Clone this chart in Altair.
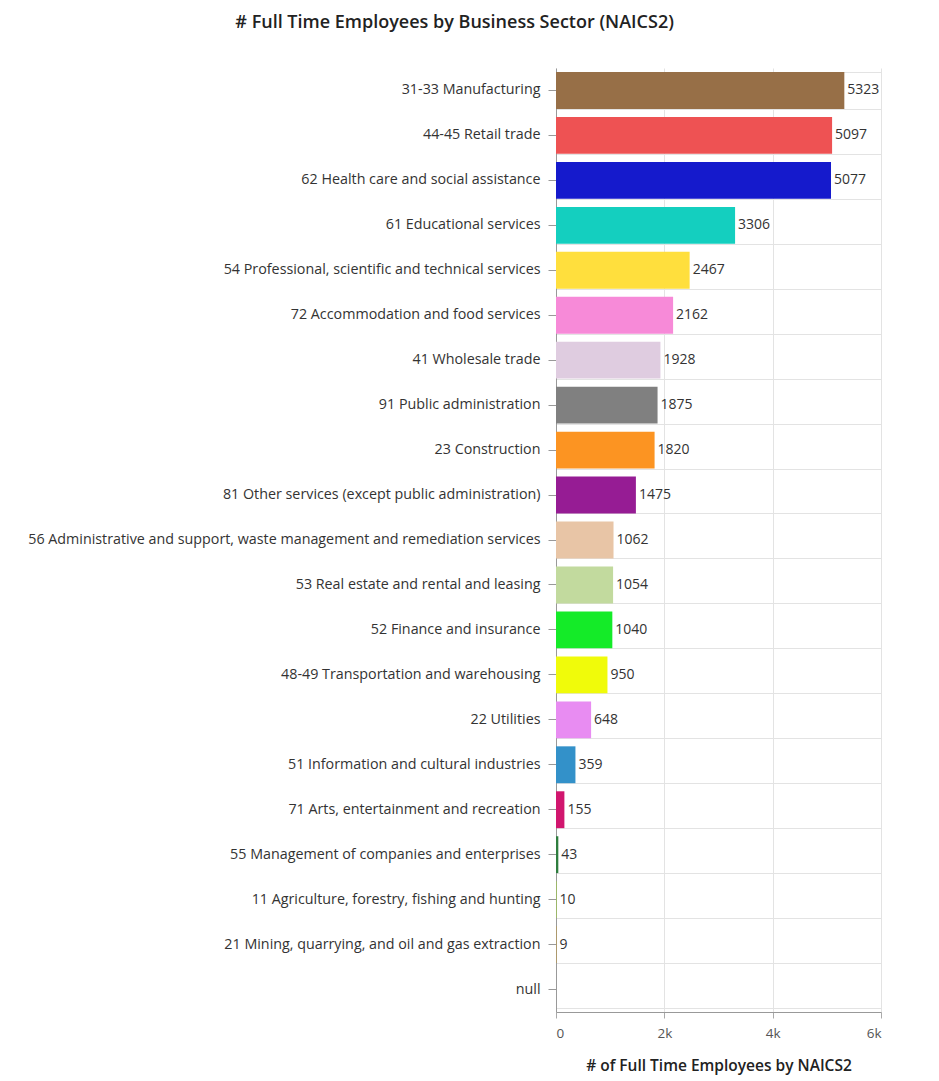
import altair as alt
import pandas as pd

sectors = [
    "31-33 Manufacturing",
    "44-45 Retail trade",
    "62 Health care and social assistance",
    "61 Educational services",
    "54 Professional, scientific and technical services",
    "72 Accommodation and food services",
    "41 Wholesale trade",
    "91 Public administration",
    "23 Construction",
    "81 Other services (except public administration)",
    "56 Administrative and support, waste management and remediation services",
    "53 Real estate and rental and leasing",
    "52 Finance and insurance",
    "48-49 Transportation and warehousing",
    "22 Utilities",
    "51 Information and cultural industries",
    "71 Arts, entertainment and recreation",
    "55 Management of companies and enterprises",
    "11 Agriculture, forestry, fishing and hunting",
    "21 Mining, quarrying, and oil and gas extraction",
    "null",
]
employees = [5323, 5097, 5077, 3306, 2467, 2162, 1928, 1875, 1820, 1475,
             1062, 1054, 1040, 950, 648, 359, 155, 43, 10, 9, None]
colors = ["#976f47", "#ee5253", "#151acc", "#14cfbf", "#ffdf3d", "#f78ad8",
          "#dfcce0", "#808080", "#fc9422", "#961c94", "#e8c5a6", "#c2da9e",
          "#14eb28", "#f0fb0a", "#e88cf2", "#3391c9", "#d1166e", "#2e7d3e",
          "#9fd040", "#c49a40", "#ffffff"]
x_ticks = [0, 2000, 4000, 6000]

df = pd.DataFrame({"sector": sectors, "employees": employees, "color": colors})

LABEL_FONT = "Open Sans"

yscale = alt.Scale(domain=sectors, paddingInner=0.18, paddingOuter=0.09)
xscale = alt.Scale(domain=[0, 6000], nice=False)

grid_layer = alt.Chart(df).mark_point(opacity=0).encode(
    y=alt.Y("sector:N", scale=yscale,
            axis=alt.Axis(orient="left", labels=False, ticks=False, domain=False,
                          grid=True, tickBand="extent", gridColor="#e3e3e3",
                          title=None)),
)

bars = alt.Chart(df).transform_filter("datum.employees != null").mark_bar().encode(
    y=alt.Y("sector:N", scale=yscale,
            axis=alt.Axis(orient="left", title=None, grid=False, tickSize=8, labelPadding=8,
                          labelFont=LABEL_FONT, labelFontSize=14.3, labelColor="#333333",
                          labelLimit=800, domainColor="#999999", tickColor="#999999")),
    x=alt.X("employees:Q", scale=xscale,
            axis=alt.Axis(values=x_ticks, grid=True, gridColor="#e3e3e3",
                          labelExpr="datum.value == 0 ? '0' : format(datum.value / 1000, 'd') + 'k'",
                          tickSize=6, tickColor="#aaaaaa", domainColor="#999999",
                          labelFont=LABEL_FONT, labelFontSize=13.5, labelColor="#555555",
                          labelPadding=8, title="# of Full Time Employees by NAICS2",
                          titleFont=LABEL_FONT, titleFontSize=15.5, titleFontWeight=600,
                          titleColor="#222222", titlePadding=19)),
    color=alt.Color("color:N", scale=None, legend=None),
)

labels = alt.Chart(df).transform_filter("datum.employees != null").mark_text(
    align="left", baseline="middle", dx=3, font=LABEL_FONT, fontSize=14, color="#333333"
).encode(
    y=alt.Y("sector:N", scale=yscale, axis=None),
    x=alt.X("employees:Q", scale=xscale),
    text=alt.Text("employees:Q", format="d"),
)

chart = alt.layer(grid_layer, bars, labels).resolve_axis(y="independent").properties(
    width=325,
    height=944,
    title=alt.TitleParams(
        "# Full Time Employees by Business Sector (NAICS2)",
        anchor="middle", frame="bounds", font=LABEL_FONT, fontSize=18,
        fontWeight=600, color="#222222", offset=36,
    ),
    padding={"top": 6, "left": 19, "right": 10, "bottom": 4},
    background="#ffffff",
).configure_view(stroke=None)

chart.save("out.html", embed_options={"renderer": "svg", "actions": False})
